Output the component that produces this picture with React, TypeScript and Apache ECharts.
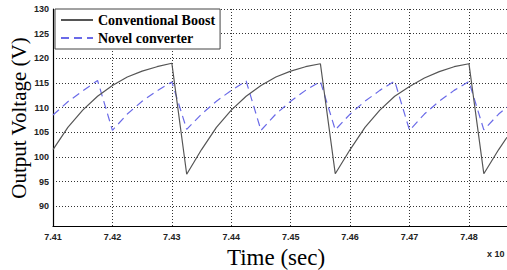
import React, { useEffect, useRef } from "react";
import * as echarts from "echarts";

// Time (s) / voltage (V) readings
const conventionalBoost: [number, number][] = [
  [7.41, 101.5], [7.4125, 106], [7.415, 109.5], [7.4175, 112.3], [7.42, 114.5],
  [7.4225, 116.2], [7.425, 117.4], [7.4275, 118.3], [7.43, 119],
  [7.4325, 96.5], [7.435, 101.5], [7.4375, 106], [7.44, 109.5], [7.4425, 112.3],
  [7.445, 114.5], [7.4475, 116.2], [7.45, 117.4], [7.4525, 118.3], [7.455, 118.9],
  [7.4575, 96.6], [7.46, 101.5], [7.4625, 106], [7.465, 109.5], [7.4675, 112.3],
  [7.47, 114.3], [7.4725, 116], [7.475, 117.3], [7.4775, 118.3], [7.48, 118.9],
  [7.4825, 96.6], [7.485, 101.5], [7.4864, 104],
];

const novelConverter: [number, number][] = [
  [7.41, 108.5], [7.4125, 111.2], [7.415, 113.4], [7.4175, 115.5],
  [7.42, 105.4], [7.4225, 108.7], [7.425, 111.3], [7.4275, 113.4], [7.43, 115.2],
  [7.4325, 105.6], [7.435, 108.7], [7.4375, 111.3], [7.44, 113.5], [7.4425, 115.4],
  [7.445, 105.4], [7.4475, 108.7], [7.45, 111.3], [7.4525, 113.5], [7.455, 115.3],
  [7.4575, 105.5], [7.46, 108.7], [7.4625, 111.3], [7.465, 113.5], [7.4675, 115.4],
  [7.47, 105.4], [7.4725, 108.7], [7.475, 111.3], [7.4775, 113.5], [7.48, 115.3],
  [7.4825, 105.5], [7.485, 108.7], [7.4864, 110.1],
];

const seriesNames = ["Conventional Boost", "Novel converter"];
const xRange = [7.41, 7.4864];
const yRange = [86, 130];

export default function App() {
  const ref = useRef<HTMLDivElement>(null);
  useEffect(() => {
    if (!ref.current) return;
    const chart = echarts.init(ref.current, null, { renderer: "svg" });
    const labelFont = {
      fontFamily: "Liberation Sans",
      fontWeight: "bold" as const,
      fontSize: 9,
      color: "#222",
    };
    chart.setOption({
      animation: false,
      backgroundColor: "#fff",
      grid: { left: 53, right: 0, top: 9, bottom: 44, containLabel: false },
      legend: {
        left: 55,
        top: 9,
        orient: "vertical",
        itemWidth: 32,
        itemHeight: 10,
        itemGap: 4,
        padding: [4, 5, 4, 5],
        borderColor: "#444",
        borderWidth: 1,
        borderRadius: 0,
        backgroundColor: "#fff",
        data: seriesNames,
        itemStyle: { opacity: 0 },
        textStyle: {
          fontFamily: "Liberation Serif",
          fontWeight: "bold",
          fontSize: 14,
          color: "#000",
        },
      },
      xAxis: {
        type: "value",
        min: xRange[0],
        max: xRange[1],
        interval: 0.01,
        axisLine: { show: true, lineStyle: { color: "#000", width: 1.2 } },
        axisTick: { show: false },
        axisLabel: {
          ...labelFont,
          margin: 6,
          showMaxLabel: false,
          formatter: (v: number) => v.toFixed(2),
        },
        splitLine: { show: true, lineStyle: { color: "#333", width: 1, type: [1, 2] } },
      },
      yAxis: {
        type: "value",
        min: yRange[0],
        max: yRange[1],
        splitNumber: 9,
        axisLine: { show: true, lineStyle: { color: "#000", width: 1.2 } },
        axisTick: { show: false },
        axisLabel: { ...labelFont, margin: 4, showMinLabel: false },
        splitLine: { show: true, lineStyle: { color: "#333", width: 1, type: [1, 2] } },
      },
      series: [
        {
          name: seriesNames[0],
          type: "line",
          data: conventionalBoost,
          symbol: "none",
          lineStyle: { color: "#555", width: 1.2 },
          itemStyle: { color: "#555" },
          z: 3,
        },
        {
          name: seriesNames[1],
          type: "line",
          data: novelConverter,
          symbol: "none",
          lineStyle: { color: "#6a6ae8", width: 1.2, type: [8, 5] },
          itemStyle: { color: "#6a6ae8" },
          z: 2,
        },
      ],
      graphic: [
        {
          type: "text",
          x: 19,
          y: 118,
          rotation: Math.PI / 2,
          style: {
            text: "Output Voltage (V)",
            font: '21px "Liberation Serif"',
            textAlign: "center",
            textVerticalAlign: "middle",
            fill: "#000",
          },
        },
        {
          type: "text",
          x: 276,
          y: 257,
          style: {
            text: "Time (sec)",
            font: '23px "Liberation Serif"',
            textAlign: "center",
            textVerticalAlign: "middle",
            fill: "#000",
          },
        },
        {
          type: "text",
          x: 487,
          y: 254,
          style: {
            text: "x 10",
            font: 'bold 9px "Liberation Sans"',
            textAlign: "left",
            textVerticalAlign: "middle",
            fill: "#222",
          },
        },
      ],
    });
    return () => chart.dispose();
  }, []);
  return <div ref={ref} style={{ width: 507, height: 270, position: "absolute", left: 0, top: 0 }} />;
}
